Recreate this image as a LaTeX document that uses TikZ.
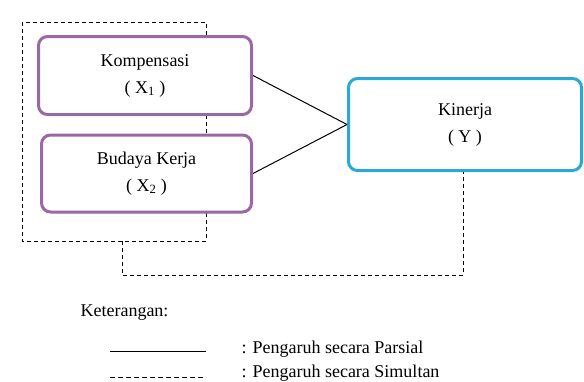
\documentclass[tikz,border=0pt]{standalone}
\usepackage{fontspec}
\setmainfont{Liberation Serif}
\definecolor{boxpurple}{HTML}{9A68A6}
\definecolor{boxblue}{HTML}{2AA8D6}
\begin{document}
\begin{tikzpicture}[x=1pt,y=-1pt,
  every node/.style={font=\fontsize{18}{27}\selectfont},
  varbox/.style={draw=boxpurple,line width=3pt,rounded corners=9pt,fill=white,align=center,inner sep=0pt},
  ybox/.style={draw=boxblue,line width=3pt,rounded corners=9pt,fill=white,align=center,inner sep=0pt},
  simul/.style={dash pattern=on 4pt off 3pt,line width=0.9pt},
  legsimul/.style={dash pattern=on 4.5pt off 3.5pt,line width=0.9pt},
  parsial/.style={line width=1pt}]
\useasboundingbox (0,0) rectangle (584,381);
% dashed group frame
\coordinate (f1) at (22,22);
\coordinate (f2) at (206,241);
\coordinate (fb) at (122,241);
\coordinate (fc) at (122,275);
\coordinate (fd) at (463,275);
\draw[simul] (f1) rectangle (f2);
% boxes
\node[varbox,minimum width=213pt,minimum height=78pt] (K) at (145,75.5) {Kompensasi\\( X\textsubscript{1} )};
\node[varbox,minimum width=210pt,minimum height=77pt] (B) at (146.5,173.5) {Budaya Kerja\\( X\textsubscript{2} )};
\node[ybox,minimum width=233pt,minimum height=92pt] (Y) at (465,124.5) {Kinerja\\( Y )};
% connectors
\draw[parsial] (K.east) -- (Y.west);
\draw[parsial] (B.east) -- (Y.west);
\draw[simul] (fb) -- (fc) -- (fd) -- (fd |- Y.south);
% legend
\node[anchor=west] (ket) at (77,313) {Keterangan:};
\coordinate (l1a) at (110,351);
\coordinate (l1b) at (206,351);
\coordinate (l2a) at (110,377);
\coordinate (l2b) at (206,377);
\draw[parsial] (l1a) -- (l1b);
\draw[legsimul] (l2a) -- (l2b);
\node[anchor=west] (t1) at (238,349) {: Pengaruh secara Parsial};
\node[anchor=west] (t2) at (238,373) {: Pengaruh secara Simultan};
\end{tikzpicture}
\end{document}
